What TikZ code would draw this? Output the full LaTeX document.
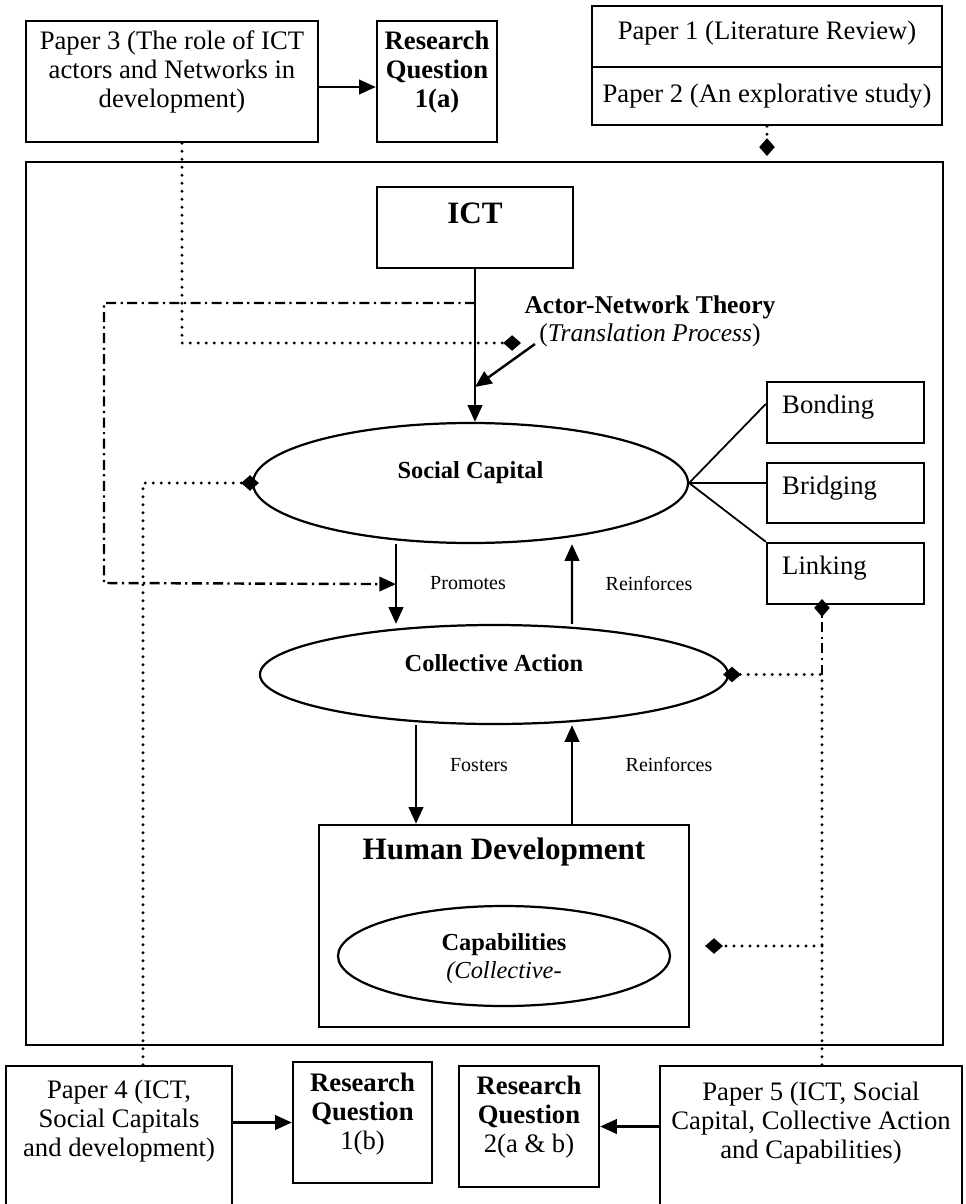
\documentclass[tikz,border=0pt]{standalone}
\usepackage{fontspec}
\setmainfont{Liberation Serif}
\usetikzlibrary{arrows.meta,shapes.geometric,fit,positioning}
\newcommand{\pxu}{0.45pt}

\begin{document}
\begin{tikzpicture}[x=0.45pt, y=-0.45pt,
    box/.style={draw, line width=1.1pt, inner sep=0pt},
    ell/.style={draw, ellipse, line width=1pt, inner sep=0pt},
    txt/.style={align=center, inner sep=0pt, font=\fontsize{12}{13}\selectfont},
    rq/.style={txt, font=\fontsize{12}{13}\selectfont\bfseries},
    big/.style={inner sep=0pt, font=\fontsize{14}{16}\selectfont\bfseries},
    mid/.style={align=center, inner sep=0pt, font=\fontsize{11}{13}\selectfont},
    midb/.style={mid, font=\fontsize{11}{13}\selectfont\bfseries},
    lbl/.style={inner sep=0pt, font=\fontsize{9}{10}\selectfont},
    arr/.style={line width=1.1pt, -{Triangle[length=7.5pt,width=6.5pt]}},
    dots/.style={line width=1.5pt, line cap=round, dash pattern=on 0pt off 3.6pt},
    dashdot/.style={line width=1.1pt, dash pattern=on 4.5pt off 2pt on 1pt off 2pt},
    dmd/.style={-{Diamond[length=8pt,width=7pt]}}]
    \useasboundingbox (0,0) rectangle (966,1204);
    \clip (0,0) rectangle (966,1204);

    % papers and questions on top
    \node[box, fit={(26,21) (318,142)}] (p3) {};
    \node[txt] (p3t) at ([shift={(0,52.5)}]p3.north) {Paper 3 (The role of ICT\\actors and Networks in\\development)};
    \node[box, fit={(377,21) (497,142)}] (rq1a) {};
    \node[rq] (rq1at) at ([shift={(0,52.5)}]rq1a.north) {Research\\Question\\1(a)};
    \node[box, fit={(592,6) (942,67)}] (p1) {};
    \node[box, fit={(592,67) (942,125)}] (p2) {};
    \node[txt] (p1t) at ([shift={(0,-3.5)}]p1.center) {Paper 1 (Literature Review)};
    \node[txt] (p2t) at (p2.center) {Paper 2 (An explorative study)};

    % framework
    \node[box, fit={(26,162) (943,1045)}] (frame) {};
    \node[box, fit={(377,187) (573,268)}] (ict) {};
    \node[big] (ictt) at ([shift={(0,28)}]ict.north) {ICT};
    \node[midb, font=\fontsize{11.5}{13}\selectfont\bfseries] (ant) at (650,307) {Actor-Network Theory};
    \node[mid, font=\fontsize{11.5}{13}\selectfont] (tp) at (650,335) {(\textit{Translation Process})};

    \node[ell, minimum width=435*\pxu, minimum height=120*\pxu] (sc) at (470.5,483) {};
    \node[midb] (sct) at ([shift={(0,-10)}]sc.center) {Social Capital};
    \node[ell, minimum width=468*\pxu, minimum height=99*\pxu] (ca) at (494,674.5) {};
    \node[midb] (cat) at ([shift={(0,-11)}]ca.center) {Collective Action};

    \node[box, fit={(767,382) (924,443)}] (bon) {};
    \node[box, fit={(767,463) (924,523)}] (brg) {};
    \node[box, fit={(767,543) (924,604)}] (lnk) {};
    \node[txt, anchor=west] (bont) at ([shift={(16,-5)}]bon.west) {Bonding};
    \node[txt, anchor=west] (brgt) at ([shift={(16,-5)}]brg.west) {Bridging};
    \node[txt, anchor=west] (lnkt) at ([shift={(16,-5)}]lnk.west) {Linking};

    \node[box, fit={(319,825) (689,1027)}] (hd) {};
    \node[big] (hdt) at ([shift={(0,28)}]hd.north) {Human Development};
    \node[ell, minimum width=332*\pxu, minimum height=100*\pxu] (cap) at (504,956) {};
    \node[midb] (capt) at ([shift={(0,-11)}]cap.center) {Capabilities};
    \node[mid, font=\fontsize{11}{13}\selectfont\itshape] (capc) at ([shift={(0,17)}]cap.center) {(Collective-};

    % papers and questions below
    \node[box, fit={(6,1066) (232,1230)}] (p4) {};
    \node[txt] (p4t) at ([shift={(0,56)}]p4.north) {Paper 4 (ICT,\\Social Capitals\\and development)};
    \node[box, fit={(293,1062) (432,1183)}] (rq1b) {};
    \node[txt] (rq1bt) at ([shift={(0,53)}]rq1b.north) {\textbf{Research}\\\textbf{Question}\\1(b)};
    \node[box, fit={(459,1066) (599,1187)}] (rq2) {};
    \node[txt] (rq2t) at ([shift={(0,52)}]rq2.north) {\textbf{Research}\\\textbf{Question}\\2(a \& b)};
    \node[box, fit={(660,1066) (962,1230)}] (p5) {};
    \node[txt] (p5t) at ([shift={(0,58)}]p5.north) {Paper 5 (ICT, Social\\Capital, Collective Action\\and Capabilities)};

    % solid arrows
    \draw[arr] ([shift={(0,5.5)}]p3.east) -- ([shift={(0,5.5)}]rq1a.west);
    \draw[arr] (ict.south) -- (ict.south |- sc.north);
    \coordinate (antend) at (475,387);
    \draw[arr] ([shift={(-4,-3)}]tp.south west) -- (antend);
    \draw[arr] ([shift={(-74.5,0)}]sc.south) -- ([shift={(-98,0)}]ca.north);
    \draw[arr] ([shift={(78,0)}]ca.north) -- ([shift={(101.5,0)}]sc.south);
    \draw[arr] ([shift={(-78,0)}]ca.south) -- ([shift={(-88,0)}]hd.north);
    \draw[arr] ([shift={(68,0)}]hd.north) -- ([shift={(78,0)}]ca.south);
    \draw[arr] (rq1b.west -| p4.east) -- (rq1b.west);
    \draw[arr] (rq2.east -| p5.west) -- (rq2.east);

    \node[lbl] (prom) at (468,583) {Promotes};
    \node[lbl] (rein1) at (649,584) {Reinforces};
    \node[lbl] (fost) at (479,765) {Fosters};
    \node[lbl] (rein2) at (669,765) {Reinforces};

    % kinds of social capital
    \draw[line width=0.8pt] (sc.east) -- ([shift={(0,-8.5)}]bon.west);
    \draw[line width=0.8pt] (sc.east) -- ([shift={(0,-10)}]brg.west);
    \draw[line width=0.8pt] (sc.east) -- (lnk.north west);

    % dash-dot from ICT
    \coordinate (dd0) at (475,303);
    \coordinate (dd1) at (104,583);
    \draw[dashdot, -{Triangle[length=7.5pt,width=6.5pt]}] (dd0) -| (dd1) -- ([shift={(-74.5,40)}]sc.south);

    % dotted links of the papers
    \coordinate (antd) at (521,343);
    \draw[dots, dmd] ([shift={(10,0)}]p3.south) |- (antd);
    \coordinate (fd) at (767,156);
    \draw[dots, dmd] (p2.south) -- (fd);
    \draw[dots, dmd] ([shift={(24,0)}]p4.north) |- ([shift={(7,0)}]sc.west);
    \draw[dots, dmd] ([shift={(11,0)}]p5.north) |- ([shift={(-6,0)}]ca.east);
    \coordinate (capj) at (822,946);
    \draw[dots, dmd] (capj) -- ([shift={(34,-10)}]cap.east);
    \coordinate (lnkj) at (822,674.5);
    \coordinate (lnkd) at (822,599);
    \draw[dashdot, dmd] (lnkj) -- (lnkd);
\end{tikzpicture}
\end{document}
